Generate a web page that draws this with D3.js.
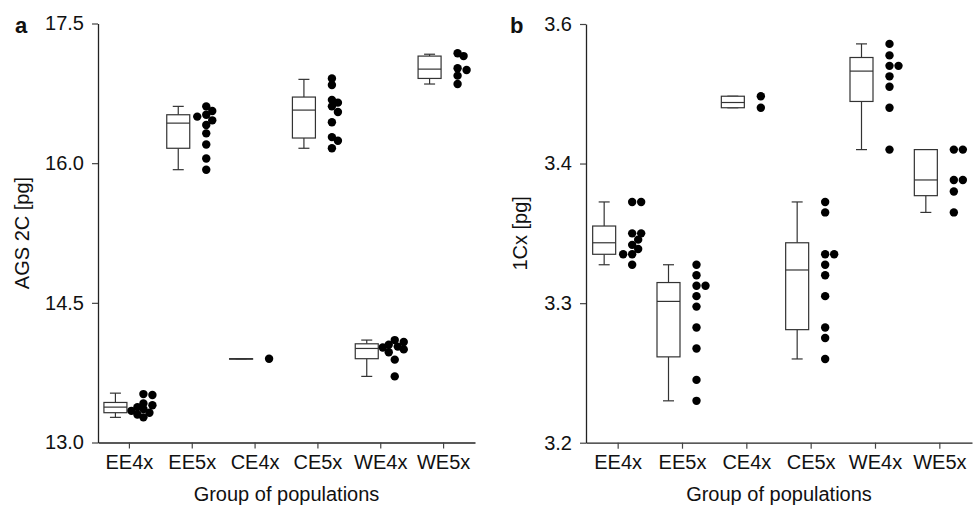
<!DOCTYPE html>
<html>
<head>
<meta charset="utf-8">
<script src="https://cdn.jsdelivr.net/npm/d3@7"></script>
<style>
  body { margin: 0; background: #fff; }
  svg text { font-family: "Liberation Sans", Arial, sans-serif; fill: #111; }
</style>
</head>
<body>
<div id="chart"></div>
<script>
var width = 978;
var height = 507;

var groups = ["EE4x", "EE5x", "CE4x", "CE5x", "WE4x", "WE5x"];

// box stats: [whisker low, q1, median, q3, whisker high]
var agsBox = [
    [13.27, 13.32, 13.38, 13.43, 13.53],
    [15.93, 16.16, 16.43, 16.52, 16.61],
    [13.90, 13.90, 13.90, 13.90, 13.90],
    [16.16, 16.27, 16.57, 16.71, 16.90],
    [13.71, 13.90, 14.01, 14.06, 14.10],
    [16.85, 16.91, 17.01, 17.15, 17.17]
];
var agsPoints = [
    [13.52, 13.51, 13.42, 13.40, 13.38, 13.36, 13.34, 13.32, 13.30, 13.27],
    [16.61, 16.56, 16.52, 16.50, 16.46, 16.41, 16.32, 16.20, 16.05, 15.93],
    [13.90],
    [16.91, 16.84, 16.68, 16.65, 16.61, 16.55, 16.44, 16.28, 16.24, 16.16],
    [14.10, 14.08, 14.05, 14.03, 14.02, 14.00, 13.97, 13.89, 13.71],
    [17.18, 17.15, 17.02, 17.00, 16.94, 16.85]
];
var agsTicks = [13.0, 14.5, 16.0, 17.5];
var agsTickLabels = ["13.0", "14.5", "16.0", "17.5"];

var cxBox = [
    [3.370, 3.380, 3.391, 3.407, 3.430],
    [3.240, 3.282, 3.335, 3.353, 3.370],
    [3.520, 3.520, 3.525, 3.531, 3.531],
    [3.280, 3.308, 3.365, 3.391, 3.430],
    [3.480, 3.526, 3.555, 3.568, 3.581],
    [3.420, 3.436, 3.451, 3.480, 3.480]
];
var cxPoints = [
    [3.430, 3.430, 3.400, 3.400, 3.394, 3.389, 3.385, 3.380, 3.380, 3.370],
    [3.370, 3.360, 3.350, 3.350, 3.340, 3.330, 3.310, 3.290, 3.260, 3.240],
    [3.531, 3.520],
    [3.430, 3.420, 3.380, 3.380, 3.370, 3.360, 3.340, 3.310, 3.300, 3.280],
    [3.581, 3.570, 3.560, 3.560, 3.550, 3.540, 3.520, 3.480],
    [3.480, 3.480, 3.451, 3.451, 3.440, 3.420]
];
var cxTicks = [3.2, 3.3333, 3.4667, 3.6];
var cxTickLabels = ["3.2", "3.3", "3.4", "3.6"];

var svg = d3.select("#chart").append("svg")
    .attr("width", width)
    .attr("height", height);

var panels = [
    {letter: "a", ylabel: "AGS 2C [pg]", box: agsBox, pts: agsPoints, ticks: agsTicks, labels: agsTickLabels,
     domain: [13.0, 17.5], x0: 98, x1: 475, yTop: 23.5, yBot: 442.5, letterX: 15, ylabX: 29},
    {letter: "b", ylabel: "1Cx [pg]", box: cxBox, pts: cxPoints, ticks: cxTicks, labels: cxTickLabels,
     domain: [3.2, 3.6], x0: 586, x1: 972, yTop: 24, yBot: 442.7, letterX: 510, ylabX: 527}
];

var r = 4.2;
var fs = "20px";

panels.forEach(function (p) {
    var g = svg.append("g");

    var x = d3.scaleBand().domain(groups).range([p.x0, p.x1]);
    var y = d3.scaleLinear().domain(p.domain).range([p.yBot, p.yTop]);
    var bw = x.bandwidth();

    // axes
    var xAxis = g.append("g")
        .attr("transform", "translate(0," + p.yBot + ")")
        .call(d3.axisBottom(x).tickSize(6).tickSizeOuter(0).tickPadding(6));
    xAxis.selectAll("text").style("font-size", fs);

    var yAxis = g.append("g")
        .attr("transform", "translate(" + p.x0 + ",0)")
        .call(d3.axisLeft(y).tickValues(p.ticks).tickSize(6).tickSizeOuter(0).tickPadding(8)
            .tickFormat(function (d, i) { return p.labels[i]; }));
    yAxis.selectAll("text").style("font-size", fs);

    g.selectAll(".domain").attr("stroke", "#222").attr("stroke-width", 1.3);
    g.selectAll(".tick line").attr("stroke", "#444").attr("stroke-width", 1.2);

    // boxes
    var boxW = 23, capW = 11, boxOff = -14, ptOff = 14;
    p.box.forEach(function (b, i) {
        var cx = x(groups[i]) + bw / 2 + boxOff;
        var bg = g.append("g").attr("stroke", "#333").attr("stroke-width", 1.2).attr("fill", "none");
        bg.append("line").attr("x1", cx).attr("x2", cx).attr("y1", y(b[0])).attr("y2", y(b[1]));
        bg.append("line").attr("x1", cx).attr("x2", cx).attr("y1", y(b[3])).attr("y2", y(b[4]));
        bg.append("line").attr("x1", cx - capW / 2).attr("x2", cx + capW / 2).attr("y1", y(b[0])).attr("y2", y(b[0]));
        bg.append("line").attr("x1", cx - capW / 2).attr("x2", cx + capW / 2).attr("y1", y(b[4])).attr("y2", y(b[4]));
        bg.append("rect")
            .attr("x", cx - boxW / 2).attr("width", boxW)
            .attr("y", y(b[3])).attr("height", Math.max(y(b[1]) - y(b[3]), 0.5))
            .attr("fill", "#fff");
        bg.append("line").attr("x1", cx - boxW / 2).attr("x2", cx + boxW / 2).attr("y1", y(b[2])).attr("y2", y(b[2]));
    });

    // points, dodged sideways when they overlap
    var offsets = [0, 6, -6, 3, -3, 9, -9, 12, -12];
    p.pts.forEach(function (vals, i) {
        var cx = x(groups[i]) + bw / 2 + ptOff;
        var placed = [];
        vals.forEach(function (v) {
            var py = y(v);
            var px = cx;
            for (var k = 0; k < offsets.length; k++) {
                var tx = cx + offsets[k];
                var ok = placed.every(function (q) {
                    var dx = q[0] - tx, dy = q[1] - py;
                    return dx * dx + dy * dy >= (2 * r - 2) * (2 * r - 2);
                });
                if (ok) { px = tx; break; }
            }
            placed.push([px, py]);
        });
        g.selectAll(null).data(placed).enter().append("circle")
            .attr("cx", function (d) { return d[0]; })
            .attr("cy", function (d) { return d[1]; })
            .attr("r", r)
            .attr("fill", "#000");
    });

    // titles
    g.append("text")
        .attr("x", (p.x0 + p.x1) / 2)
        .attr("y", 501)
        .attr("text-anchor", "middle")
        .style("font-size", fs)
        .text("Group of populations");

    g.append("text")
        .attr("transform", "translate(" + p.ylabX + "," + ((p.yTop + p.yBot) / 2) + ") rotate(-90)")
        .attr("text-anchor", "middle")
        .style("font-size", fs)
        .text(p.ylabel);

    g.append("text")
        .attr("x", p.letterX)
        .attr("y", 33)
        .style("font-size", "22px")
        .style("font-weight", "bold")
        .text(p.letter);
});
</script>
</body>
</html>
